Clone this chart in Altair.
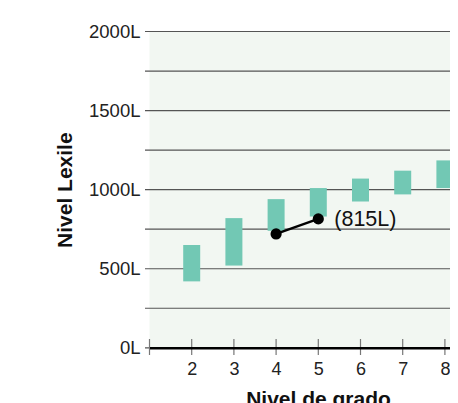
import altair as alt
import pandas as pd

# ---- data ----
grades = [2, 3, 4, 5, 6, 7, 8]
band_low = [420, 520, 740, 830, 925, 970, 1010]
band_high = [650, 820, 940, 1010, 1070, 1120, 1185]
student_grades = [4, 5]
student_levels = [720, 815]
tick_grades = [1, 2, 3, 4, 5, 6, 7, 8]
label_grades = [2, 3, 4, 5, 6, 7, 8]
grid_levels = [0, 250, 500, 750, 1000, 1250, 1500, 1750, 2000]
label_levels = [0, 500, 1000, 1500, 2000]
annotation_text = "(815L)"

bands = pd.DataFrame({"grade": grades, "low": band_low, "high": band_high})
student = pd.DataFrame({"grade": student_grades, "level": student_levels})
ticks = pd.DataFrame({"grade": tick_grades})
grid = pd.DataFrame({"level": grid_levels})
annot = pd.DataFrame({"grade": [student_grades[-1]], "level": [student_levels[-1]],
                      "label": [annotation_text]})

W = 300.5
H = 316.3
FONT = "Liberation Sans"

xscale = alt.Scale(domain=[1, 1 + W / 42.2], nice=False, zero=False, padding=0)
yscale = alt.Scale(domain=[0, 2000], nice=False, padding=0)

x_axis = alt.Axis(
    values=label_grades, title="Nivel de grado", grid=False, ticks=False,
    domainColor="#000000", domainWidth=2.5, labelFontSize=18, labelFont=FONT,
    labelColor="#222222", labelPadding=13, titleFont=FONT, titleFontSize=21,
    titleFontWeight="bold", titleColor="#111111", titleX=168.5, titleY=41,
    titleBaseline="top", titleAlign="center", format="d", zindex=1,
)
y_axis = alt.Axis(
    values=label_levels, title="Nivel Lexile", grid=False, ticks=False, domain=False,
    labelExpr="datum.value + 'L'",
    labelFontSize=18.5, labelFont=FONT, labelColor="#222222", labelPadding=9.5,
    titleFont=FONT, titleFontSize=21, titleFontWeight="bold", titleColor="#111111",
    titleX=-78, titleY=H / 2, titleAlign="center", titleBaseline="alphabetic",
    titleAngle=270,
)

grid_rules = alt.Chart(grid).mark_rule(color="#555555", strokeWidth=1.2).encode(
    y=alt.Y("level:Q", scale=yscale, axis=y_axis),
    x=alt.value(-4.5),
    x2=alt.value(W),
)

bars = alt.Chart(bands).mark_bar(size=17, color="#72C8B4").encode(
    x=alt.X("grade:Q", scale=xscale, axis=x_axis),
    y=alt.Y("low:Q", scale=yscale),
    y2="high:Q",
)

tick_rules = alt.Chart(ticks).mark_rule(color="#777777", strokeWidth=1.2).encode(
    x=alt.X("grade:Q", scale=xscale),
    y=alt.value(H - 8.8),
    y2=alt.value(H + 7.2),
)

line = alt.Chart(student).mark_line(color="#000000", strokeWidth=2.5).encode(
    x=alt.X("grade:Q", scale=xscale),
    y=alt.Y("level:Q", scale=yscale),
)
points = alt.Chart(student).mark_circle(color="#000000", size=125, opacity=1).encode(
    x=alt.X("grade:Q", scale=xscale),
    y=alt.Y("level:Q", scale=yscale),
)
label = alt.Chart(annot).mark_text(
    align="left", baseline="middle", dx=16, dy=1, fontSize=21.5, font=FONT, color="#111111"
).encode(
    x=alt.X("grade:Q", scale=xscale),
    y=alt.Y("level:Q", scale=yscale),
    text="label:N",
)

chart = alt.layer(grid_rules, bars, tick_rules, line, points, label).properties(
    width=W, height=H,
    autosize=alt.AutoSizeParams(type="none"),
    padding={"left": 141.5, "top": 23.5, "right": 0, "bottom": 55.2},
    background="#FFFFFF",
).configure_view(
    fill="#F2F7F2", stroke=None,
)

chart.save("out.html", embed_options={"renderer": "svg", "actions": False})
